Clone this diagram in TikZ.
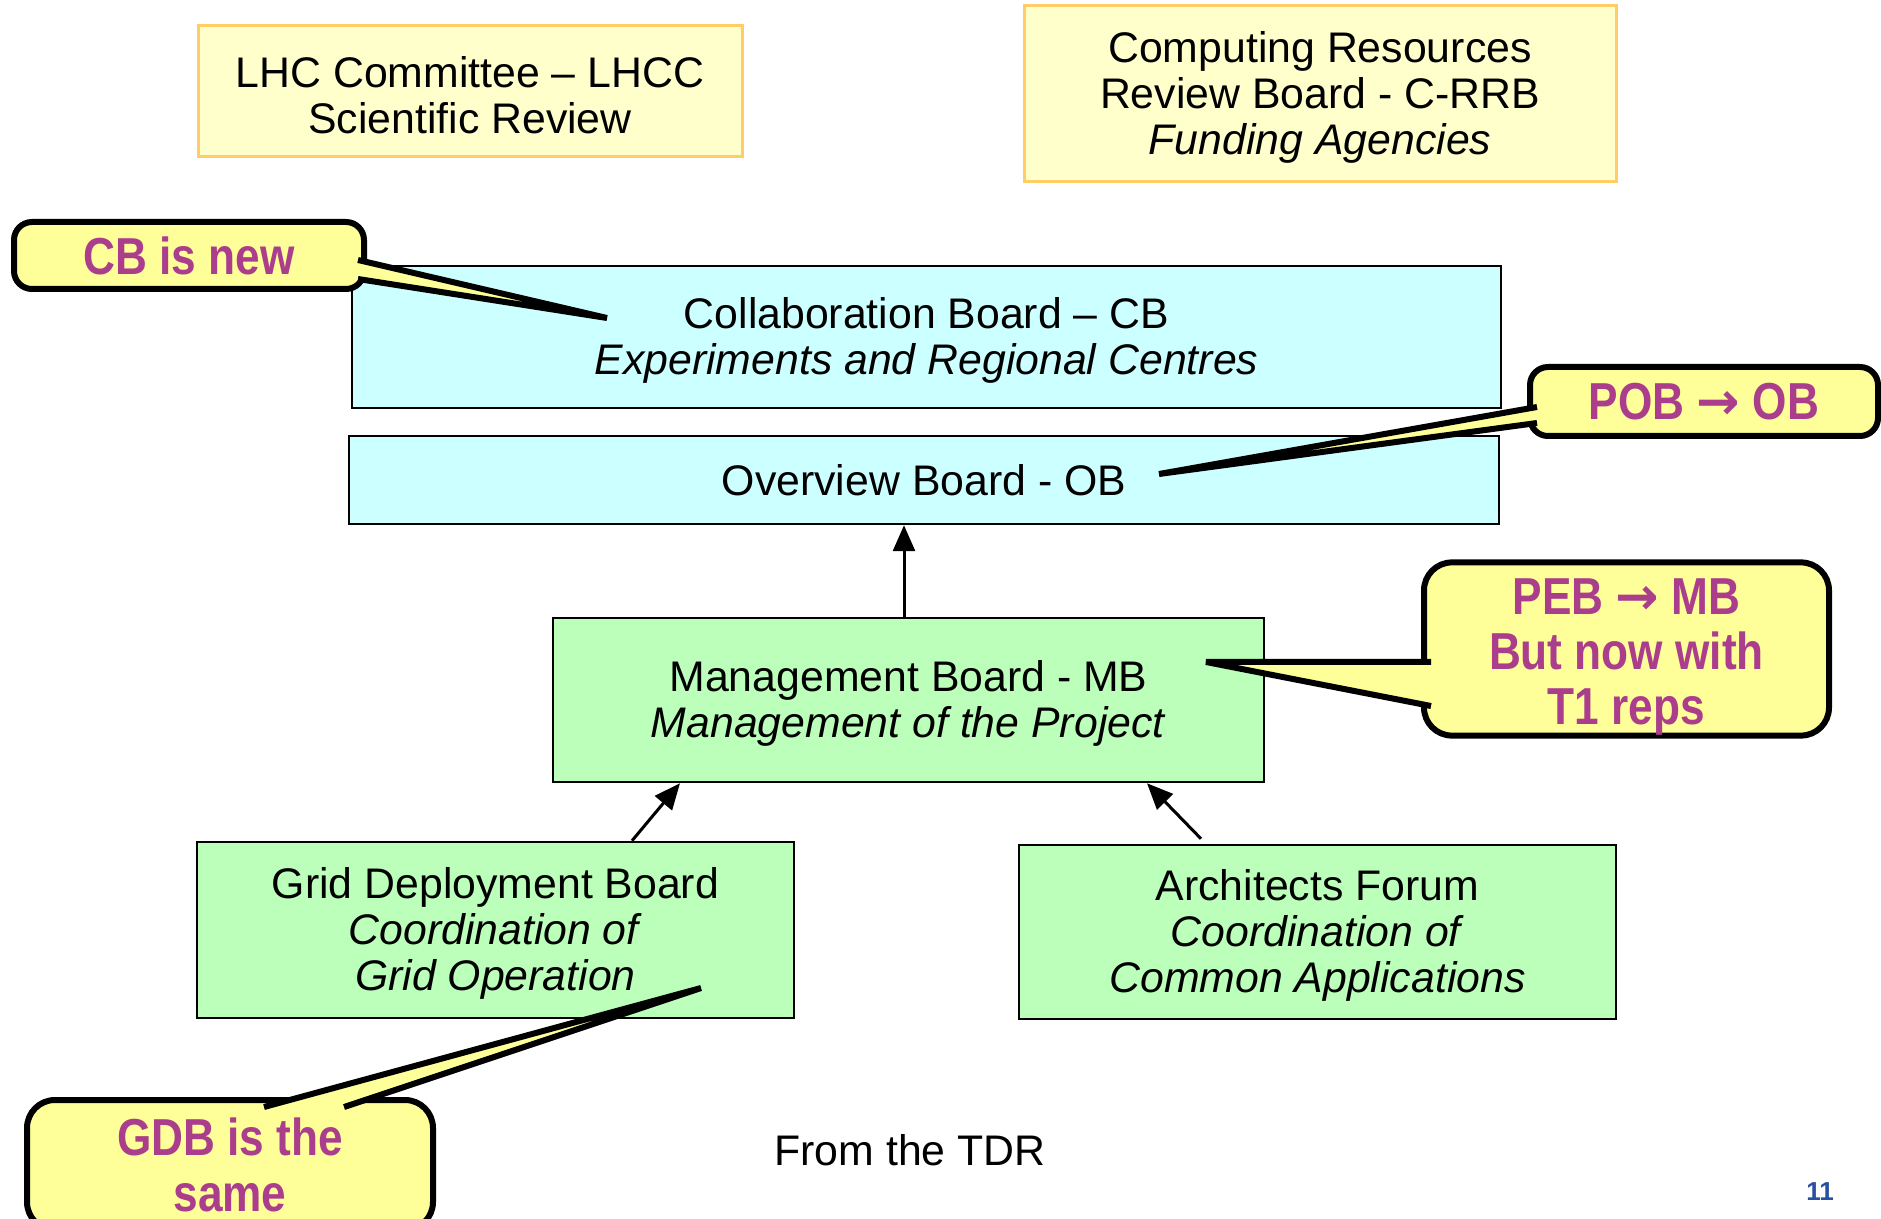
\documentclass[tikz,border=0pt]{standalone}
\usepackage{fontspec}
\setmainfont{Liberation Sans}
\newfontfamily\calloutfont[FakeStretch=0.85]{Liberation Sans}
\newfontfamily\arrowfont{DejaVu Sans}
\newcommand\firststrut[1]{\rule{0pt}{#1}}
\usetikzlibrary{arrows.meta}
\definecolor{paleyellow}{RGB}{255,255,204}
\definecolor{goldline}{RGB}{255,204,102}
\definecolor{palecyan}{RGB}{204,255,255}
\definecolor{palegreen}{RGB}{187,255,187}
\definecolor{calloutyellow}{RGB}{255,255,153}
\definecolor{calloutmagenta}{RGB}{170,62,140}
\definecolor{pageblue}{RGB}{40,80,160}
\begin{document}
\begin{tikzpicture}[x=0.5pt,y=-0.5pt,
 base/.style={font=\fontsize{21.4}{23}\selectfont, align=center, inner sep=0pt},
 review/.style={base, draw=goldline, fill=paleyellow, line width=1.5pt},
 board/.style={base, draw=black, line width=1.25pt},
 cyanboard/.style={board, fill=palecyan},
 greenboard/.style={board, fill=palegreen},
 callout/.style={draw=black, fill=calloutyellow, line width=3pt, align=center, inner sep=0pt, text=calloutmagenta, font=\calloutfont\bfseries\fontsize{26}{27.6}\selectfont},
 smallcallout/.style={callout, rounded corners=9pt},
 bigcallout/.style={callout, rounded corners=14pt},
 pointerfill/.style={fill=calloutyellow},
 pointerline/.style={draw=black, line width=3pt},
 arr/.style={line width=1.5pt, -{Triangle[length=13pt,width=11pt]}}
]
\fill[white] (0,0) rectangle (1881,1219);
\useasboundingbox (0,0) rectangle (1881,1219);

% review bodies
\node[review, minimum width=272pt, minimum height=65.5pt] (lhcc) at (470,91.5) {\firststrut{19.2pt}LHC Committee – LHCC\\Scientific Review};
\node[review, minimum width=296pt, minimum height=88pt] (crrb) at (1320,94) {\firststrut{19.2pt}Computing Resources\\Review Board - C-RRB\\\textit{Funding Agencies}};

% boards
\node[cyanboard, minimum width=574.5pt, minimum height=71pt] (cb) at (926.5,337) {\firststrut{19.2pt}Collaboration Board – CB\\\textit{Experiments and Regional Centres}};
\node[cyanboard, minimum width=575pt, minimum height=44pt] (ob) at (924,480) {Overview Board - OB};
\node[greenboard, minimum width=355.5pt, minimum height=82pt] (mb) at (908.5,700) {\firststrut{19.2pt}Management Board - MB\\\textit{Management of the Project}};
\node[greenboard, minimum width=298.5pt, minimum height=88pt] (gdb) at (495.5,930) {\firststrut{19.2pt}Grid Deployment Board\\\textit{Coordination of}\\\textit{Grid Operation}};
\node[greenboard, minimum width=298.5pt, minimum height=87pt] (af) at (1317.5,932) {\firststrut{19.2pt}Architects Forum\\\textit{Coordination of}\\\textit{Common Applications}};

% arrows
\draw[arr] ([xshift=-2.25pt]mb.north) -- ([xshift=-2.25pt]mb.north |- ob.south);
\draw[arr] ([xshift=68.25pt]gdb.north) -- ([xshift=-114.25pt]mb.south);
\draw[arr] ([xshift=-58.25pt,yshift=2.5pt]af.north) -- ([xshift=119.25pt]mb.south);

% texts
\node[base] (tdr) at (910,1150) {From the TDR};
\node[font=\bfseries\fontsize{13}{14}\selectfont, text=pageblue, inner sep=0pt] (pagenum) at (1820,1192) {11};

% callouts
\node[smallcallout, minimum width=175pt, minimum height=33.5pt] (cbnew) at (189,255.5) {CB is new};
\coordinate (cbtip) at (607,318);
\coordinate (cbb1) at (358,260);
\coordinate (cbb2) at (358,279);
\fill[pointerfill] (cbb1) -- (cbtip) -- (cbb2) -- cycle;
\draw[pointerline] (cbb1) -- (cbtip) -- (cbb2);

\node[smallcallout, minimum width=174pt, minimum height=34.5pt] (pobob) at (1704,401.5) {POB {\arrowfont\bfseries →} OB};
\coordinate (obtip) at (1159,474);
\coordinate (obb1) at (1537,407);
\coordinate (obb2) at (1537,423);
\fill[pointerfill] (obb1) -- (obtip) -- (obb2) -- cycle;
\draw[pointerline] (obb1) -- (obtip) -- (obb2);

\node[bigcallout, minimum width=202.5pt, minimum height=85pt] (pebmb) at (1626.5,649) {\firststrut{26pt}PEB {\arrowfont\bfseries →} MB\\But now with\\T1 reps};
\coordinate (mbtip) at (1206,662);
\coordinate (mbb1) at (1431,662);
\coordinate (mbb2) at (1431,706);
\fill[pointerfill] (mbb1) -- (mbtip) -- (mbb2) -- cycle;
\draw[pointerline] (mbb1) -- (mbtip) -- (mbb2);

\node[bigcallout, minimum width=203pt, minimum height=65pt] (gdbsame) at (230,1165) {GDB is the\\same};
\coordinate (gdbtip) at (701,988);
\coordinate (gdbb1) at (264,1107);
\coordinate (gdbb2) at (344,1107);
\fill[pointerfill] (gdbb1) -- (gdbtip) -- (gdbb2) -- cycle;
\draw[pointerline] (gdbb1) -- (gdbtip) -- (gdbb2);
\end{tikzpicture}
\end{document}
